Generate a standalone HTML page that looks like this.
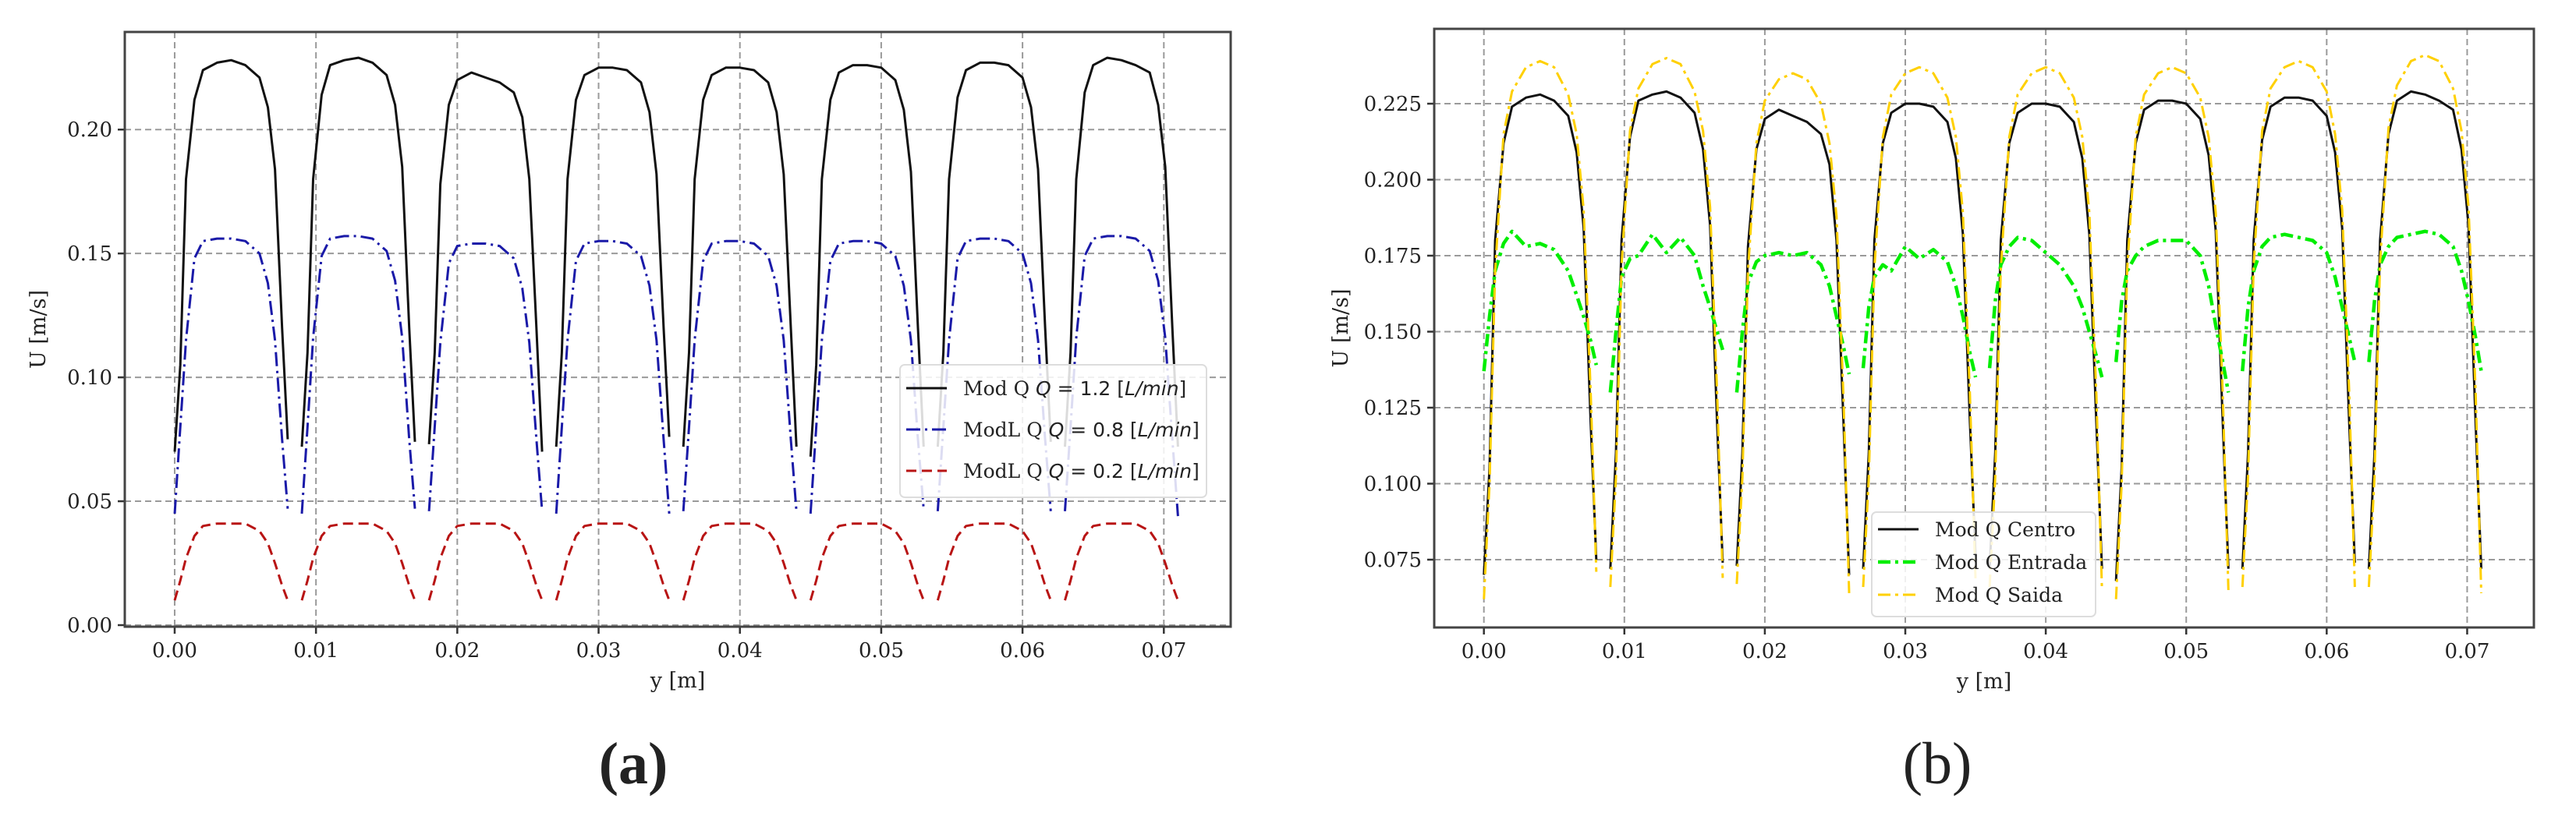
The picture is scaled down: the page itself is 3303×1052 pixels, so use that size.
<!DOCTYPE html>
<html><head><meta charset="utf-8">
<style>
html,body{margin:0;padding:0;background:#fff;}
svg{display:block;}
text{font-family:"DejaVu Serif","Liberation Serif",serif;fill:#222;}
</style></head>
<body>
<svg id="fig" width="3303" height="1052" viewBox="0 0 3303 1052" xmlns="http://www.w3.org/2000/svg">
<rect x="0" y="0" width="3303" height="1052" fill="#fff"/>
<g id="panelA"></g>
<g id="panelB"></g>
<text x="812" y="1005" font-size="76" font-weight="bold" text-anchor="middle" style="font-family:'Liberation Serif',serif">(a)</text>
<text x="2484" y="1005" font-size="76" text-anchor="middle" style="font-family:'Liberation Serif',serif">(b)</text>
</svg>
<script>
// ---- data ----
const channelStarts = [0.000, 0.009, 0.018, 0.027, 0.036, 0.045, 0.054, 0.063];
const pointOffsets = [0, 0.0004, 0.0008, 0.0014, 0.002, 0.003, 0.004, 0.005, 0.006, 0.0066, 0.0071, 0.0076, 0.008];
const xTicks = [0.00, 0.01, 0.02, 0.03, 0.04, 0.05, 0.06, 0.07];
const xTickLabels = ["0.00","0.01","0.02","0.03","0.04","0.05","0.06","0.07"];
const yTicksA = [0.00, 0.05, 0.10, 0.15, 0.20];
const yTickLabelsA = ["0.00","0.05","0.10","0.15","0.20"];
const yTicksB = [0.075, 0.100, 0.125, 0.150, 0.175, 0.200, 0.225];
const yTickLabelsB = ["0.075","0.100","0.125","0.150","0.175","0.200","0.225"];

const modQ12 = [
 [0.070,0.105,0.180,0.212,0.224,0.227,0.228,0.226,0.221,0.209,0.184,0.120,0.075],
 [0.072,0.110,0.180,0.214,0.226,0.228,0.229,0.227,0.222,0.210,0.185,0.120,0.074],
 [0.073,0.110,0.178,0.210,0.220,0.223,0.221,0.219,0.215,0.205,0.180,0.120,0.070],
 [0.072,0.110,0.180,0.212,0.222,0.225,0.225,0.224,0.219,0.207,0.182,0.120,0.076],
 [0.072,0.110,0.180,0.212,0.222,0.225,0.225,0.224,0.219,0.207,0.182,0.120,0.072],
 [0.068,0.105,0.180,0.212,0.223,0.226,0.226,0.225,0.220,0.208,0.183,0.120,0.072],
 [0.072,0.110,0.180,0.213,0.224,0.227,0.227,0.226,0.221,0.209,0.184,0.120,0.074],
 [0.072,0.110,0.180,0.215,0.226,0.229,0.228,0.226,0.223,0.210,0.185,0.120,0.072]
];
const modLQ08 = [
 [0.045,0.080,0.115,0.148,0.155,0.156,0.156,0.155,0.150,0.138,0.115,0.075,0.047],
 [0.045,0.080,0.116,0.149,0.156,0.157,0.157,0.156,0.151,0.139,0.116,0.075,0.047],
 [0.046,0.080,0.114,0.146,0.153,0.154,0.154,0.153,0.148,0.136,0.114,0.075,0.046],
 [0.045,0.080,0.115,0.147,0.154,0.155,0.155,0.154,0.149,0.137,0.115,0.075,0.045],
 [0.046,0.080,0.115,0.147,0.154,0.155,0.155,0.154,0.149,0.137,0.115,0.075,0.046],
 [0.045,0.080,0.115,0.147,0.154,0.155,0.155,0.154,0.149,0.137,0.115,0.075,0.047],
 [0.046,0.080,0.115,0.148,0.155,0.156,0.156,0.155,0.150,0.138,0.115,0.075,0.046],
 [0.046,0.080,0.116,0.149,0.156,0.157,0.157,0.156,0.151,0.139,0.116,0.075,0.044]
];
const modLQ02 = [
 [0.010,0.018,0.027,0.036,0.040,0.041,0.041,0.041,0.038,0.033,0.025,0.016,0.010],
 [0.010,0.018,0.027,0.036,0.040,0.041,0.041,0.041,0.038,0.033,0.025,0.016,0.010],
 [0.010,0.018,0.027,0.036,0.040,0.041,0.041,0.041,0.038,0.033,0.025,0.016,0.010],
 [0.010,0.018,0.027,0.036,0.040,0.041,0.041,0.041,0.038,0.033,0.025,0.016,0.010],
 [0.010,0.018,0.027,0.036,0.040,0.041,0.041,0.041,0.038,0.033,0.025,0.016,0.010],
 [0.010,0.018,0.027,0.036,0.040,0.041,0.041,0.041,0.038,0.033,0.025,0.016,0.010],
 [0.010,0.018,0.027,0.036,0.040,0.041,0.041,0.041,0.038,0.033,0.025,0.016,0.010],
 [0.010,0.018,0.027,0.036,0.040,0.041,0.041,0.041,0.038,0.033,0.025,0.016,0.010]
];
const entrada = [
 [0.137,0.155,0.170,0.179,0.183,0.178,0.179,0.177,0.170,0.162,0.155,0.147,0.139],
 [0.130,0.150,0.168,0.174,0.175,0.182,0.176,0.181,0.175,0.165,0.158,0.150,0.144],
 [0.130,0.150,0.166,0.173,0.175,0.176,0.175,0.176,0.172,0.165,0.155,0.145,0.136],
 [0.138,0.158,0.168,0.172,0.170,0.178,0.174,0.177,0.173,0.165,0.155,0.143,0.135],
 [0.138,0.160,0.172,0.178,0.181,0.180,0.176,0.172,0.165,0.158,0.150,0.142,0.135],
 [0.140,0.160,0.170,0.175,0.178,0.180,0.180,0.180,0.175,0.165,0.152,0.140,0.130],
 [0.137,0.158,0.170,0.178,0.181,0.182,0.181,0.180,0.176,0.168,0.158,0.148,0.140],
 [0.140,0.160,0.172,0.178,0.181,0.182,0.183,0.182,0.178,0.170,0.160,0.148,0.137]
];
const saida = [
 [0.062,0.100,0.170,0.215,0.229,0.237,0.239,0.237,0.228,0.215,0.190,0.130,0.071],
 [0.066,0.102,0.172,0.216,0.230,0.238,0.240,0.238,0.229,0.216,0.191,0.130,0.069],
 [0.067,0.102,0.170,0.212,0.226,0.233,0.235,0.233,0.225,0.212,0.188,0.128,0.064],
 [0.066,0.102,0.171,0.214,0.228,0.235,0.237,0.235,0.227,0.214,0.189,0.129,0.068],
 [0.066,0.102,0.171,0.214,0.228,0.235,0.237,0.235,0.227,0.214,0.189,0.129,0.065],
 [0.062,0.100,0.171,0.214,0.228,0.235,0.237,0.235,0.227,0.214,0.189,0.129,0.065],
 [0.066,0.102,0.172,0.216,0.230,0.237,0.239,0.237,0.229,0.215,0.190,0.130,0.066],
 [0.066,0.102,0.173,0.217,0.231,0.239,0.241,0.239,0.230,0.216,0.191,0.130,0.064]
];

const NS = "http://www.w3.org/2000/svg";
function mk(tag, attrs, parent){const e=document.createElementNS(NS,tag);for(const k in attrs)e.setAttribute(k,attrs[k]);parent.appendChild(e);return e;}

function drawPanel(g, cfg){
  const sx = v => cfg.x0 + (v - cfg.xmin)/(cfg.xmax-cfg.xmin)*(cfg.x1-cfg.x0);
  const sy = v => cfg.y1 - (v - cfg.ymin)/(cfg.ymax-cfg.ymin)*(cfg.y1-cfg.y0);
  // grid
  xTicks.forEach((t,i)=>{
    const l = mk('line',{x1:sx(t),x2:sx(t),y1:cfg.y0,y2:cfg.y1,stroke:'#9a9a9a','stroke-width':2,'stroke-dasharray':'8,5'},g);
    
    
    const tk = mk('line',{x1:sx(t),x2:sx(t),y1:cfg.y1,y2:cfg.y1+9,stroke:'#333','stroke-width':2.5},g);
    
    
    const tx = mk('text',{x:sx(t),y:cfg.y1+39,'font-size':26,'text-anchor':'middle'},g);
    tx.textContent = xTickLabels[i];
    
    
  });
  cfg.yt.forEach((t,i)=>{
    const l = mk('line',{x1:cfg.x0,x2:cfg.x1,y1:sy(t),y2:sy(t),stroke:'#9a9a9a','stroke-width':2,'stroke-dasharray':'8,5'},g);
    
    
    const tk = mk('line',{x1:cfg.x0-9,x2:cfg.x0,y1:sy(t),y2:sy(t),stroke:'#333','stroke-width':2.5},g);
    
    
    const tx = mk('text',{x:cfg.x0-16,y:sy(t)+9,'font-size':26,'text-anchor':'end'},g);
    tx.textContent = cfg.ytl[i];
    
    
  });
  // clip
  const cid = 'clip'+cfg.id;
  const cp = mk('clipPath',{id:cid},g);
  mk('rect',{x:cfg.x0,y:cfg.y0,width:cfg.x1-cfg.x0,height:cfg.y1-cfg.y0},cp);
  const plot = mk('g',{'clip-path':'url(#'+cid+')'},g);
  
  
  cfg.series.forEach(s=>{
    const sg = mk('g',{},plot);
    
    
    s.data.forEach((ch,ci)=>{
      const pts = ch.map((v,k)=> sx(channelStarts[ci]+pointOffsets[k]).toFixed(1)+','+sy(v).toFixed(1)).join(' ');
      const pl = mk('polyline',{points:pts,fill:'none',stroke:s.color,'stroke-width':s.w,'stroke-linejoin':'round','stroke-dasharray':s.dash||'none'},sg);
      
      
    });
  });
  // frame
  const fr = mk('rect',{x:cfg.x0,y:cfg.y0,width:cfg.x1-cfg.x0,height:cfg.y1-cfg.y0,fill:'none',stroke:'#444','stroke-width':3},g);
  
  
  const xl = mk('text',{x:(cfg.x0+cfg.x1)/2,y:cfg.y1+78,'font-size':27,'text-anchor':'middle'},g);
  xl.textContent='y [m]';
  
  
  const yl = mk('text',{x:0,y:0,'font-size':27,'text-anchor':'middle',transform:'translate('+cfg.ylx+','+((cfg.y0+cfg.y1)/2)+') rotate(-90)'},g);
  yl.textContent='U [m/s]';
  
  
  // legend
  const L = cfg.legend;
  const lg = mk('g',{},g);
  
  
  mk('rect',{x:L.x,y:L.y,width:L.w,height:L.h,rx:6,fill:'#fff','fill-opacity':0.85,stroke:'#ddd','stroke-width':2},lg);
  cfg.series.forEach((s,i)=>{
    const yy = L.y+L.first+i*L.step;
    const e = mk('g',{},lg);
    
    
    mk('line',{x1:L.x+8,x2:L.x+60,y1:yy,y2:yy,stroke:s.color,'stroke-width':s.w,'stroke-dasharray':s.dash||'none'},e);
    const t = mk('text',{x:L.x+L.tx,y:yy+9,'font-size':L.fs},e);
    t.innerHTML = s.label;
  });
}

const sans = 'style="font-family:\'DejaVu Sans\',sans-serif;font-style:italic"';
const sansN = 'style="font-family:\'DejaVu Sans\',sans-serif"';
drawPanel(document.getElementById('panelA'),{
  id:'A', x0:160,x1:1578,y0:41,y1:804, xmin:-0.00353, xmax:0.07473, ymin:-0.000629, ymax:0.2394,
  yt:yTicksA, ytl:yTickLabelsA, ylx:58,
  series:[
    {name:'mod-q-1-2-line',data:modQ12,color:'#111',w:3,label:'Mod Q <tspan '+sans+'>Q</tspan><tspan '+sansN+'> = 1.2 [</tspan><tspan '+sans+'>L/min</tspan><tspan '+sansN+'>]</tspan>'},
    {name:'modl-q-0-8-line',data:modLQ08,color:'#1a1aa8',w:3,dash:'18,6,3,6',label:'ModL Q <tspan '+sans+'>Q</tspan><tspan '+sansN+'> = 0.8 [</tspan><tspan '+sans+'>L/min</tspan><tspan '+sansN+'>]</tspan>'},
    {name:'modl-q-0-2-line',data:modLQ02,color:'#b81414',w:3,dash:'13,7',label:'ModL Q <tspan '+sans+'>Q</tspan><tspan '+sansN+'> = 0.2 [</tspan><tspan '+sans+'>L/min</tspan><tspan '+sansN+'>]</tspan>'}
  ],
  legend:{x:1154,y:468,w:393,h:170,first:30,step:53,tx:81,fs:25}
});
drawPanel(document.getElementById('panelB'),{
  id:'B', x0:1839,x1:3249,y0:37,y1:805, xmin:-0.003536, xmax:0.07475, ymin:0.05269, ymax:0.24962,
  yt:yTicksB, ytl:yTickLabelsB, ylx:1728,
  series:[
    {name:'mod-q-centro-line',data:modQ12,color:'#111',w:3,label:'Mod Q Centro'},
    {name:'mod-q-entrada-line',data:entrada,color:'#00ee00',w:4.5,dash:'16,6,4,6',label:'Mod Q Entrada'},
    {name:'mod-q-saida-line',data:saida,color:'#ffd000',w:3,dash:'16,6,4,6',label:'Mod Q Saida'}
  ],
  legend:{x:2400,y:657,w:287,h:134,first:22,step:42,tx:81,fs:25}
});
</script>
</body></html>
